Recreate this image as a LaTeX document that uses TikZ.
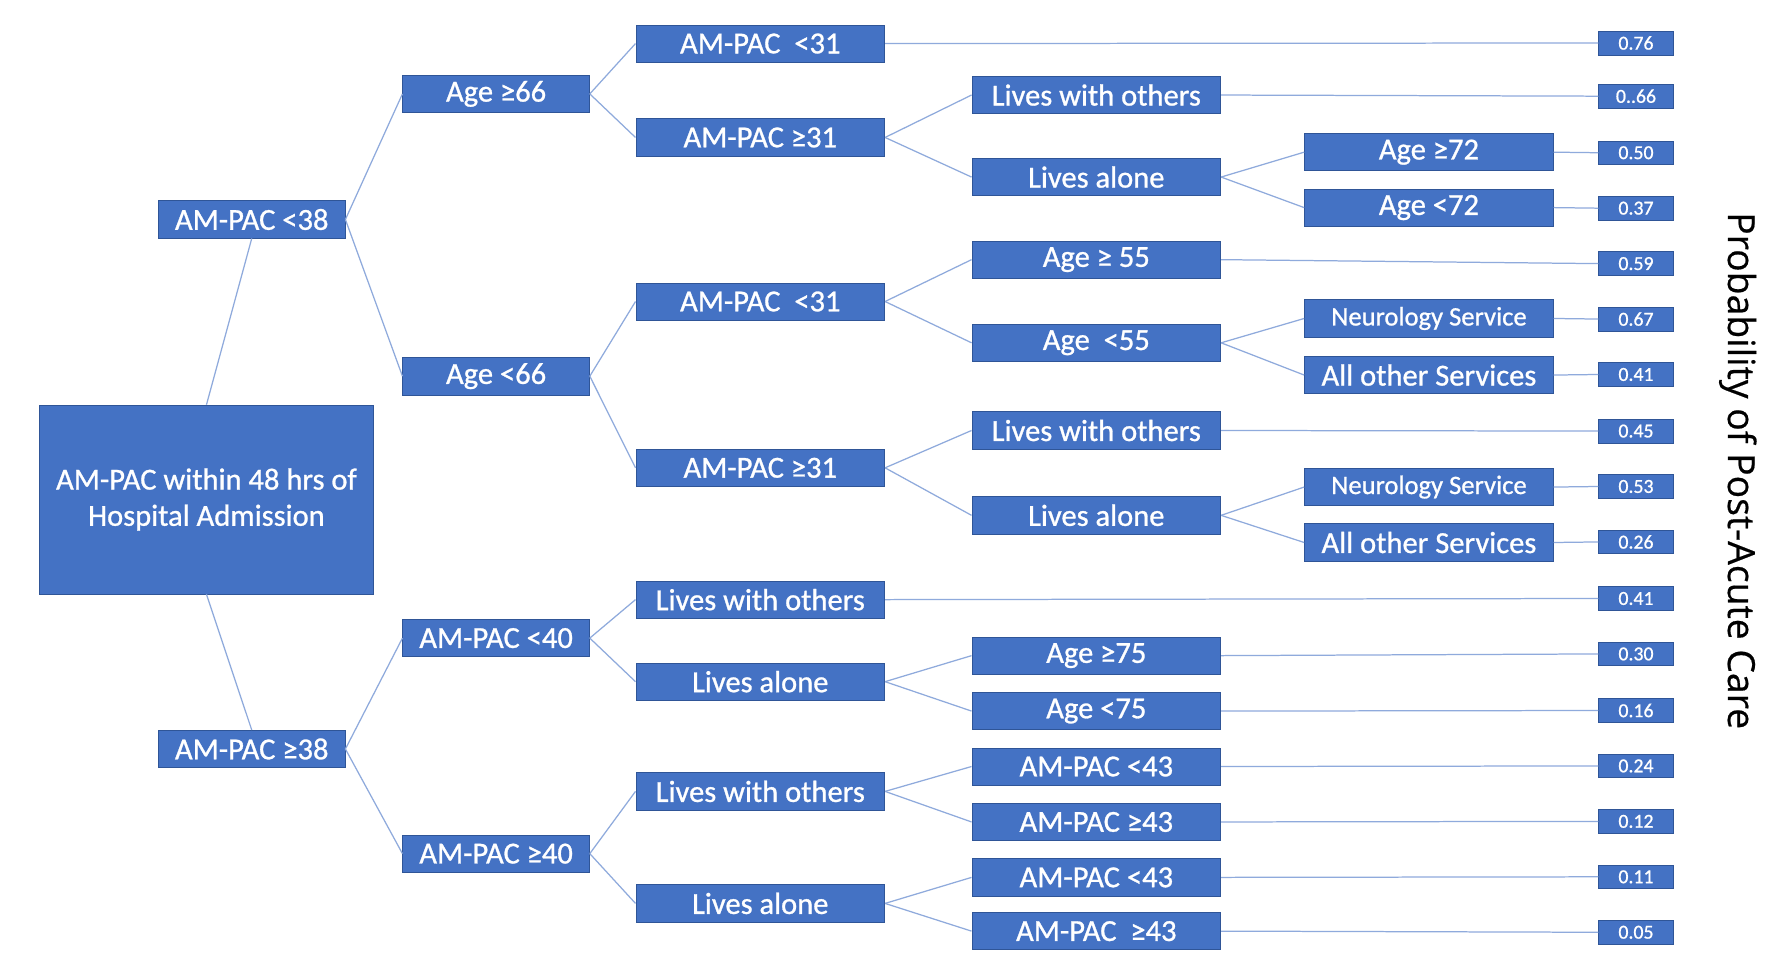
\documentclass[tikz,border=0pt]{standalone}
\usepackage{fontspec}
\setmainfont{Carlito}
\newfontfamily\boxfont{Carlito}[FakeBold=0.9]
\newfontfamily\sidefont{Open Sans}[FakeBold=0.5]
\definecolor{boxblue}{HTML}{4472C4}
\definecolor{boxedge}{HTML}{2F5597}
\definecolor{linkblue}{HTML}{8FAADC}
\begin{document}
\begin{tikzpicture}[x=1pt,y=-1pt,
  box/.style={fill=boxblue,draw=boxedge,line width=0.6pt,text=white,inner sep=0pt,
    font=\boxfont\fontsize{27}{32}\selectfont},
  bs/.style={box,minimum width=165pt,minimum height=33pt},
  bw/.style={box,minimum width=220pt,minimum height=33pt},
  small/.style={font=\boxfont\fontsize{23.5}{28}\selectfont},
  prob/.style={box,minimum width=66pt,minimum height=21pt,font=\boxfont\fontsize{17.5}{20}\selectfont},
  link/.style={draw=linkblue,line width=1.1pt}]
\useasboundingbox[fill=white] (0,0) rectangle (1568,856);
% root
\node[box,minimum width=295pt,minimum height=167pt,align=center] (root) at (182.5,441.5)
  {AM-PAC within 48 hrs of\\Hospital Admission};
% column 1
\node[bs] (n1a) at (222.5,194) {AM-PAC <38};
\node[bs] (n1b) at (222.5,662) {AM-PAC ≥38};
% column 2
\node[bs] (c2a) at (438.5,83) {Age ≥66};
\node[bs] (c2b) at (438.5,332.5) {Age <66};
\node[bs] (c2c) at (438.5,564) {AM-PAC <40};
\node[bs] (c2d) at (438.5,754.5) {AM-PAC ≥40};
% column 3
\node[bw] (c3a) at (672,38.5) {AM-PAC\ \ <31};
\node[bw] (c3b) at (672,121.5) {AM-PAC ≥31};
\node[bw] (c3c) at (672,266.5) {AM-PAC\ \ <31};
\node[bw] (c3d) at (672,413.5) {AM-PAC ≥31};
\node[bw] (c3e) at (672,530) {Lives with others};
\node[bw] (c3f) at (672,602.5) {Lives alone};
\node[bw] (c3g) at (672,699.5) {Lives with others};
\node[bw] (c3h) at (672,798.5) {Lives alone};
% column 4
\node[bw] (c4a) at (969,84) {Lives with others};
\node[bw] (c4b) at (969,156.5) {Lives alone};
\node[bw] (c4c) at (969,229.5) {Age ≥ 55};
\node[bw] (c4d) at (969,303) {Age\ \ <55};
\node[bw] (c4e) at (969,380.5) {Lives with others};
\node[bw] (c4f) at (969,455.5) {Lives alone};
\node[bw] (c4g) at (969,579.5) {Age ≥75};
\node[bw] (c4h) at (969,628.5) {Age <75};
\node[bw] (c4i) at (969,677.5) {AM-PAC <43};
\node[bw] (c4j) at (969,726.5) {AM-PAC ≥43};
\node[bw] (c4k) at (969,775.5) {AM-PAC <43};
\node[bw] (c4l) at (969,823) {AM-PAC\ \ ≥43};
% column 5
\node[bw] (c5a) at (1263,134.5) {Age ≥72};
\node[bw] (c5b) at (1263,183.5) {Age <72};
\node[bw,small] (c5c) at (1263,281.5) {Neurology Service};
\node[bw] (c5d) at (1263,331.5) {All other Services};
\node[bw,small] (c5e) at (1263,430.5) {Neurology Service};
\node[bw] (c5f) at (1263,479.5) {All other Services};
% probabilities
\node[prob] (p1) at (1446,38) {0.76};
\node[prob] (p2) at (1446,85) {0..66};
\node[prob] (p3) at (1446,135) {0.50};
\node[prob] (p4) at (1446,184) {0.37};
\node[prob] (p5) at (1446,233) {0.59};
\node[prob] (p6) at (1446,282) {0.67};
\node[prob] (p7) at (1446,331) {0.41};
\node[prob] (p8) at (1446,381) {0.45};
\node[prob] (p9) at (1446,430) {0.53};
\node[prob] (p10) at (1446,479) {0.26};
\node[prob] (p11) at (1446,529) {0.41};
\node[prob] (p12) at (1446,578) {0.30};
\node[prob] (p13) at (1446,628) {0.16};
\node[prob] (p14) at (1446,677) {0.24};
\node[prob] (p15) at (1446,726) {0.12};
\node[prob] (p16) at (1446,775) {0.11};
\node[prob] (p17) at (1446,824) {0.05};
% side label
\node[font=\sidefont\fontsize{33}{38}\selectfont,rotate=-90,inner sep=0pt] (side) at (1536,416)
  {Probability of Post-Acute Care};
% connectors
\draw[link] (root.north) -- (n1a.south);
\draw[link] (root.south) -- (n1b.north);
\draw[link] (n1a.east) -- (c2a.west);
\draw[link] (n1a.east) -- (c2b.west);
\draw[link] (n1b.east) -- (c2c.west);
\draw[link] (n1b.east) -- (c2d.west);
\draw[link] (c2a.east) -- (c3a.west);
\draw[link] (c2a.east) -- (c3b.west);
\draw[link] (c2b.east) -- (c3c.west);
\draw[link] (c2b.east) -- (c3d.west);
\draw[link] (c2c.east) -- (c3e.west);
\draw[link] (c2c.east) -- (c3f.west);
\draw[link] (c2d.east) -- (c3g.west);
\draw[link] (c2d.east) -- (c3h.west);
\draw[link] (c3b.east) -- (c4a.west);
\draw[link] (c3b.east) -- (c4b.west);
\draw[link] (c3c.east) -- (c4c.west);
\draw[link] (c3c.east) -- (c4d.west);
\draw[link] (c3d.east) -- (c4e.west);
\draw[link] (c3d.east) -- (c4f.west);
\draw[link] (c3f.east) -- (c4g.west);
\draw[link] (c3f.east) -- (c4h.west);
\draw[link] (c3g.east) -- (c4i.west);
\draw[link] (c3g.east) -- (c4j.west);
\draw[link] (c3h.east) -- (c4k.west);
\draw[link] (c3h.east) -- (c4l.west);
\draw[link] (c4b.east) -- (c5a.west);
\draw[link] (c4b.east) -- (c5b.west);
\draw[link] (c4d.east) -- (c5c.west);
\draw[link] (c4d.east) -- (c5d.west);
\draw[link] (c4f.east) -- (c5e.west);
\draw[link] (c4f.east) -- (c5f.west);
\draw[link] (c3a.east) -- (p1.west);
\draw[link] (c4a.east) -- (p2.west);
\draw[link] (c5a.east) -- (p3.west);
\draw[link] (c5b.east) -- (p4.west);
\draw[link] (c4c.east) -- (p5.west);
\draw[link] (c5c.east) -- (p6.west);
\draw[link] (c5d.east) -- (p7.west);
\draw[link] (c4e.east) -- (p8.west);
\draw[link] (c5e.east) -- (p9.west);
\draw[link] (c5f.east) -- (p10.west);
\draw[link] (c3e.east) -- (p11.west);
\draw[link] (c4g.east) -- (p12.west);
\draw[link] (c4h.east) -- (p13.west);
\draw[link] (c4i.east) -- (p14.west);
\draw[link] (c4j.east) -- (p15.west);
\draw[link] (c4k.east) -- (p16.west);
\draw[link] (c4l.east) -- (p17.west);
\end{tikzpicture}
\end{document}
